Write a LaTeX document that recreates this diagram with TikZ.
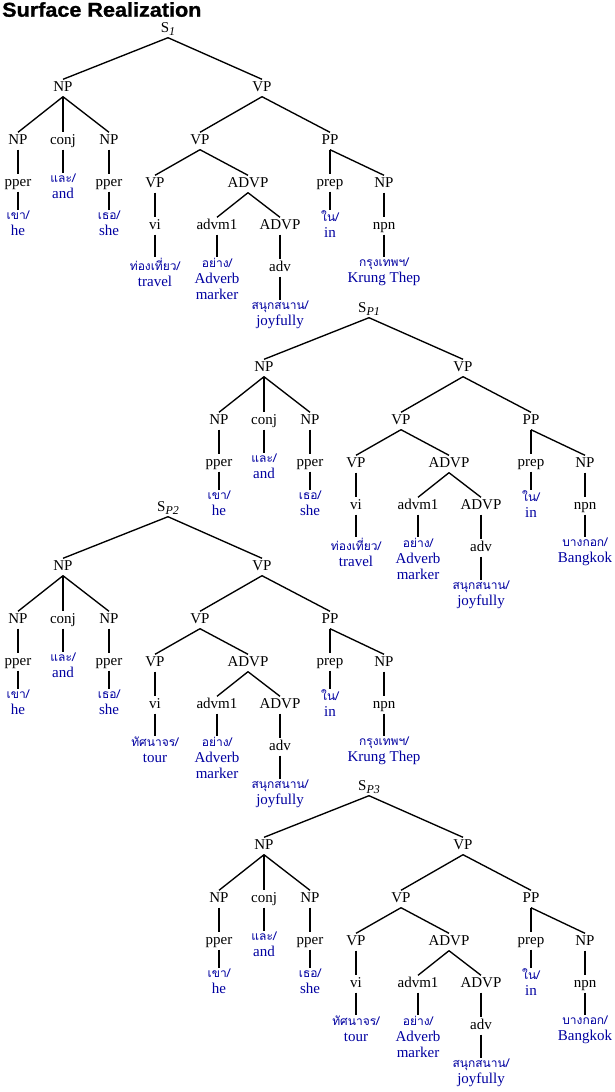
\documentclass[tikz,border=0pt]{standalone}
\usepackage{fontspec}
\setmainfont{Liberation Serif}
\newfontfamily\thaifont[Script=Thai]{Loma}
\newfontfamily\titlefont[FakeStretch=1.08, FakeBold=1.2]{Liberation Sans}
\definecolor{leafblue}{RGB}{0,0,160}

\tikzset{
  tag/.style={inner sep=2pt, text height=10pt, text depth=3pt, font=\fontsize{15}{16}\selectfont},
  leaf/.style={anchor=north, inner sep=1pt, align=center, text=leafblue, font=\fontsize{15}{16}\selectfont},
  branch/.style={line width=1.35pt}
}

% thai word / english gloss
\newcommand{\thw}[2]{{\thaifont\fontsize{12}{12}\selectfont #1/}\\#2}
% subscript of the sentence node
\newcommand{\ssub}[1]{\raisebox{-3pt}{\fontsize{12}{12}\selectfont\itshape #1}}

% one parse tree: shift, prefix, subscript, verb leaf, place leaf
\newcommand{\parsetree}[5]{%
  \begin{scope}[shift={(#1)}, name prefix=#2-]
    \node[tag] (s) at (168,29) {S\ssub{#3}};
    \node[tag] (np) at (63,88) {NP};
    \node[tag] (vp) at (262,88) {VP};

    \node[tag] (npa) at (18,141) {NP};
    \node[tag] (conj) at (63,141) {conj};
    \node[tag] (npb) at (109,141) {NP};
    \node[tag] (vpa) at (200,141) {VP};
    \node[tag] (pp) at (330,141) {PP};

    \node[tag] (ppera) at (18,183) {pper};
    \node[leaf] (conjw) at (63,173) {\thw{และ}{and}};
    \node[tag] (pperb) at (109,183) {pper};
    \node[tag] (vpb) at (155,184) {VP};
    \node[tag] (advp) at (248,184) {ADVP};
    \node[tag] (prep) at (330,183) {prep};
    \node[tag] (npc) at (384,184) {NP};

    \node[leaf] (hew) at (18,210) {\thw{เขา}{he}};
    \node[leaf] (shew) at (109,210) {\thw{เธอ}{she}};
    \node[tag] (vi) at (155,226) {vi};
    \node[tag] (advm) at (217,226) {advm1};
    \node[tag] (advpb) at (280,226) {ADVP};
    \node[leaf] (inw) at (330,210) {\thw{ใน}{in}};
    \node[tag] (npn) at (384,226) {npn};

    \node[leaf] (verbw) at (155,257) {#4};
    \node[leaf] (markw) at (217,257) {\thw{อย่าง}{Adverb\\marker}};
    \node[tag] (adv) at (280,268) {adv};
    \node[leaf] (placew) at (384,257) {#5};
    \node[leaf] (joyw) at (280,300) {\thw{สนุกสนาน}{joyfully}};

    \draw[branch] (s.south) -- (np.north);
    \draw[branch] (s.south) -- (vp.north);
    \draw[branch] (np.south) -- (npa.north);
    \draw[branch] (np.south) -- (conj.north);
    \draw[branch] (np.south) -- (npb.north);
    \draw[branch] (vp.south) -- (vpa.north);
    \draw[branch] (vp.south) -- (pp.north);
    \draw[branch] (npa) -- (ppera);
    \draw[branch] (conj) -- (conjw);
    \draw[branch] (npb) -- (pperb);
    \draw[branch] (ppera) -- (hew);
    \draw[branch] (pperb) -- (shew);
    \draw[branch] (vpa.south) -- (vpb.north);
    \draw[branch] (vpa.south) -- (advp.north);
    \draw[branch] (pp.south) -- (prep.north);
    \draw[branch] (pp.south) -- (npc.north);
    \draw[branch] (vpb) -- (vi);
    \draw[branch] (vi) -- (verbw);
    \draw[branch] (advp.south) -- (advm.north);
    \draw[branch] (advp.south) -- (advpb.north);
    \draw[branch] (advm) -- (markw);
    \draw[branch] (advpb) -- (adv);
    \draw[branch] (adv) -- (joyw);
    \draw[branch] (prep) -- (inw);
    \draw[branch] (npc) -- (npn);
    \draw[branch] (npn) -- (placew);
  \end{scope}}

\begin{document}
\begin{tikzpicture}[x=1pt, y=-1pt]
  \useasboundingbox (0,0) rectangle (614,1092);

  \node[anchor=north west, inner sep=0pt, font=\titlefont\bfseries\fontsize{20}{20}\selectfont] (title) at (2,2) {Surface Realization};

  \parsetree{0,0}{t1}{1}{\thw{ท่องเที่ยว}{travel}}{\thw{กรุงเทพฯ}{Krung Thep}}
  \parsetree{201,280}{t2}{P1}{\thw{ท่องเที่ยว}{travel}}{\thw{บางกอก}{Bangkok}}
  \parsetree{0,479}{t3}{P2}{\thw{ทัศนาจร}{tour}}{\thw{กรุงเทพฯ}{Krung Thep}}
  \parsetree{201,758}{t4}{P3}{\thw{ทัศนาจร}{tour}}{\thw{บางกอก}{Bangkok}}
\end{tikzpicture}
\end{document}
